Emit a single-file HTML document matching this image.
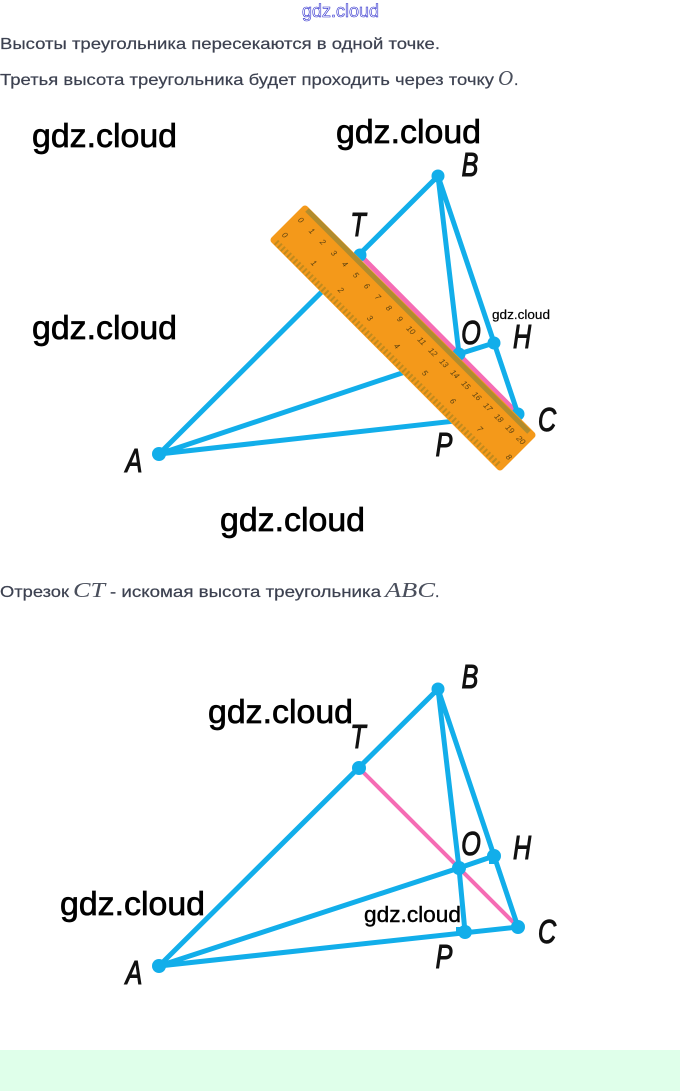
<!DOCTYPE html>
<html lang="ru"><head><meta charset="utf-8"><title>Высота треугольника</title>
<style>
html,body{margin:0;padding:0;background:#fff}
svg{display:block}
.t{font:16px "Liberation Sans",sans-serif;fill:#3c4150;stroke:#3c4150;stroke-width:.2}
.m{font:italic 21px "Liberation Serif",serif;fill:#4a4f5c}
.g{font:33px "Liberation Sans",sans-serif;fill:#000;stroke:#000;stroke-width:.7}
.l{font:italic 33px "Liberation Sans",sans-serif;fill:#111;text-anchor:middle;stroke:#111;stroke-width:1.1}
.n{font:italic 8px "Liberation Sans",sans-serif;fill:#5d4210;text-anchor:middle}
.b{stroke:#12aeea;stroke-width:5;fill:none;stroke-linecap:round}
.d{fill:#12aeea}
</style></head><body>
<svg width="680" height="1091" viewBox="0 0 680 1091" xmlns="http://www.w3.org/2000/svg">
<rect width="680" height="1091" fill="#fff"/>
<rect y="1050" width="680" height="41" fill="#dfffea"/>

<text x="302" y="17" textLength="77" lengthAdjust="spacingAndGlyphs" style="font:18px 'Liberation Sans',sans-serif;fill:#fff;stroke:#2a2acc;stroke-width:.6">gdz.cloud</text>
<text class="t" x="0" y="49" textLength="440" lengthAdjust="spacingAndGlyphs">Высоты треугольника пересекаются в одной точке.</text>
<text class="t" x="0" y="85" textLength="494" lengthAdjust="spacingAndGlyphs">Третья высота треугольника будет проходить через точку</text>
<text class="m" x="498" y="85">O</text><text class="t" x="514" y="85">.</text>

<!-- Diagram 1 -->
<line x1="360" y1="255" x2="518" y2="414" stroke="#f56cb4" stroke-width="5"/>
<path class="b" d="M159 454L438 176L518 414L159 454L459 354L494 343M438 176L459 354L465 419"/>
<circle class="d" cx="438" cy="176" r="6.5"/><circle class="d" cx="159" cy="454" r="7"/>
<circle class="d" cx="360" cy="255" r="6.5"/><circle class="d" cx="459" cy="354" r="6.5"/>
<circle class="d" cx="494" cy="343" r="6.5"/><circle class="d" cx="518" cy="414" r="6.5"/>
<polygon points="305,209 274,240 500,467 532,435" fill="#f4991a" stroke="#f4991a" stroke-width="7" stroke-linejoin="round"/>
<line x1="307" y1="210" x2="529" y2="432" stroke="#b08c2e" stroke-width="5"/>
<line x1="276" y1="242" x2="500" y2="466" stroke="#c08a1e" stroke-width="6" stroke-dasharray="2 2.4"/>
<g class="n">
<text transform="translate(299,222) rotate(45)">0</text>
<text transform="translate(310,233) rotate(45)">1</text>
<text transform="translate(321,244) rotate(45)">2</text>
<text transform="translate(332,255) rotate(45)">3</text>
<text transform="translate(343,266) rotate(45)">4</text>
<text transform="translate(354,277) rotate(45)">5</text>
<text transform="translate(365,288) rotate(45)">6</text>
<text transform="translate(376,299) rotate(45)">7</text>
<text transform="translate(387,310) rotate(45)">8</text>
<text transform="translate(398,321) rotate(45)">9</text>
<text transform="translate(409,332) rotate(45)">10</text>
<text transform="translate(420,343) rotate(45)">11</text>
<text transform="translate(431,354) rotate(45)">12</text>
<text transform="translate(442,365) rotate(45)">13</text>
<text transform="translate(453,376) rotate(45)">14</text>
<text transform="translate(464,387) rotate(45)">15</text>
<text transform="translate(475,398) rotate(45)">16</text>
<text transform="translate(486,409) rotate(45)">17</text>
<text transform="translate(497,420) rotate(45)">18</text>
<text transform="translate(508,431) rotate(45)">19</text>
<text transform="translate(519,442) rotate(45)">20</text>
<text transform="translate(283,237) rotate(45)">0</text>
<text transform="translate(312,265) rotate(45)">1</text>
<text transform="translate(339,292) rotate(45)">2</text>
<text transform="translate(368,320) rotate(45)">3</text>
<text transform="translate(395,348) rotate(45)">4</text>
<text transform="translate(423,375) rotate(45)">5</text>
<text transform="translate(451,403) rotate(45)">6</text>
<text transform="translate(478,431) rotate(45)">7</text>
<text transform="translate(507,459) rotate(45)">8</text>
</g>
<g class="l">
<text transform="translate(470,176) scale(.76,1)">B</text>
<text transform="translate(358,236) scale(.76,1)">T</text>
<text transform="translate(471,344) scale(.76,1)">O</text>
<text transform="translate(522,348) scale(.76,1)">H</text>
<text transform="translate(547,431) scale(.76,1)">C</text>
<text transform="translate(444,456) scale(.76,1)">P</text>
<text transform="translate(134,472) scale(.76,1)">A</text>
</g>

<text class="t" x="0" y="597" textLength="69" lengthAdjust="spacingAndGlyphs">Отрезок</text>
<text class="m" x="73" y="597" textLength="32" lengthAdjust="spacingAndGlyphs">CT</text>
<text class="t" x="110" y="597" textLength="271" lengthAdjust="spacingAndGlyphs">- искомая высота треугольника</text>
<text class="m" x="385" y="597" textLength="50" lengthAdjust="spacingAndGlyphs">ABC</text>
<text class="t" x="435" y="597">.</text>

<!-- Diagram 2 -->
<line x1="359" y1="768" x2="518" y2="927" stroke="#f56cb4" stroke-width="4"/>
<path class="b" d="M159 966L438 689L518 927L159 966L459 868L494 856M438 689L459 868L465 932"/>
<circle class="d" cx="438" cy="689" r="6.5"/><circle class="d" cx="159" cy="966" r="7"/>
<circle class="d" cx="359" cy="768" r="7"/><circle class="d" cx="459" cy="868" r="7"/>
<circle class="d" cx="494" cy="856" r="7"/><circle class="d" cx="518" cy="927" r="7"/>
<circle class="d" cx="465" cy="932" r="7"/><rect class="d" x="456" y="927" width="8" height="8"/>
<rect class="d" x="489" y="856" width="7" height="8"/>
<g class="l">
<text transform="translate(470,688) scale(.76,1)">B</text>
<text transform="translate(358,748) scale(.76,1)">T</text>
<text transform="translate(471,855) scale(.76,1)">O</text>
<text transform="translate(522,859) scale(.76,1)">H</text>
<text transform="translate(547,943) scale(.76,1)">C</text>
<text transform="translate(444,968) scale(.76,1)">P</text>
<text transform="translate(134,984) scale(.76,1)">A</text>
</g>

<!-- Watermarks -->
<text class="g" x="32" y="147" textLength="145" lengthAdjust="spacingAndGlyphs">gdz.cloud</text>
<text class="g" x="336" y="143" textLength="145" lengthAdjust="spacingAndGlyphs">gdz.cloud</text>
<text class="g" x="32" y="339" textLength="145" lengthAdjust="spacingAndGlyphs">gdz.cloud</text>
<text class="g" x="220" y="531" textLength="145" lengthAdjust="spacingAndGlyphs">gdz.cloud</text>
<text class="g" x="208" y="723" textLength="145" lengthAdjust="spacingAndGlyphs">gdz.cloud</text>
<text class="g" x="60" y="915" textLength="145" lengthAdjust="spacingAndGlyphs">gdz.cloud</text>
<text x="364" y="922" textLength="97" lengthAdjust="spacingAndGlyphs" style="font:22px 'Liberation Sans',sans-serif;fill:#000;stroke:#000;stroke-width:.4">gdz.cloud</text>
<text x="492" y="319" textLength="58" lengthAdjust="spacingAndGlyphs" style="font:13px 'Liberation Sans',sans-serif;fill:#000;stroke:#000;stroke-width:.2">gdz.cloud</text>
</svg>
</body></html>
